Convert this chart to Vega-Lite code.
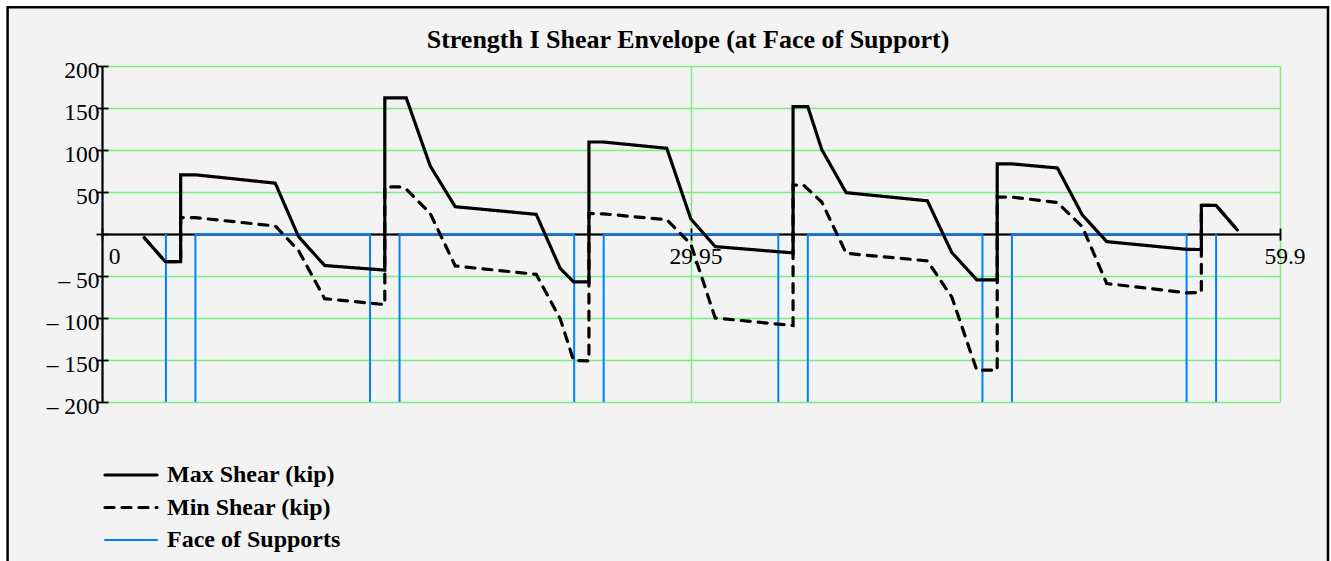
{
  "$schema": "https://vega.github.io/schema/vega-lite/v6.json",
  "width": 1178,
  "height": 336,
  "autosize": {"type": "none"},
  "padding": {"left": 102, "top": 66, "right": 51, "bottom": 159},
  "background": "#f3f3f3",
  "title": {
    "text": "Strength I Shear Envelope (at Face of Support)",
    "font": "Liberation Serif",
    "fontSize": 26,
    "fontWeight": "bold",
    "color": "black",
    "anchor": "middle",
    "frame": "group",
    "baseline": "alphabetic",
    "offset": -75,
    "dx": -3
  },
  "config": {"view": {"stroke": null}, "font": "Liberation Serif"},
  "datasets": {
    "shear": [
      {"i": 1, "x": 2.15, "v": -4.4, "series": "Max Shear (kip)"},
      {"i": 2, "x": 3.22, "v": -33, "series": "Max Shear (kip)"},
      {"i": 3, "x": 4.0, "v": -33, "series": "Max Shear (kip)"},
      {"i": 4, "x": 4.0, "v": 70.5, "series": "Max Shear (kip)"},
      {"i": 5, "x": 4.74, "v": 70.5, "series": "Max Shear (kip)"},
      {"i": 6, "x": 8.81, "v": 60.5, "series": "Max Shear (kip)"},
      {"i": 7, "x": 9.99, "v": -3, "series": "Max Shear (kip)"},
      {"i": 8, "x": 11.32, "v": -37.5, "series": "Max Shear (kip)"},
      {"i": 9, "x": 14.38, "v": -43, "series": "Max Shear (kip)"},
      {"i": 10, "x": 14.38, "v": 162, "series": "Max Shear (kip)"},
      {"i": 11, "x": 15.47, "v": 162, "series": "Max Shear (kip)"},
      {"i": 12, "x": 16.69, "v": 81, "series": "Max Shear (kip)"},
      {"i": 13, "x": 17.96, "v": 32.5, "series": "Max Shear (kip)"},
      {"i": 14, "x": 22.08, "v": 23.4, "series": "Max Shear (kip)"},
      {"i": 15, "x": 23.3, "v": -41, "series": "Max Shear (kip)"},
      {"i": 16, "x": 23.98, "v": -57, "series": "Max Shear (kip)"},
      {"i": 17, "x": 24.76, "v": -57, "series": "Max Shear (kip)"},
      {"i": 18, "x": 24.76, "v": 109.5, "series": "Max Shear (kip)"},
      {"i": 19, "x": 25.5, "v": 109.5, "series": "Max Shear (kip)"},
      {"i": 20, "x": 28.72, "v": 102, "series": "Max Shear (kip)"},
      {"i": 21, "x": 29.94, "v": 18, "series": "Max Shear (kip)"},
      {"i": 22, "x": 31.18, "v": -15, "series": "Max Shear (kip)"},
      {"i": 23, "x": 35.14, "v": -22.5, "series": "Max Shear (kip)"},
      {"i": 24, "x": 35.14, "v": 151.6, "series": "Max Shear (kip)"},
      {"i": 25, "x": 35.89, "v": 151.6, "series": "Max Shear (kip)"},
      {"i": 26, "x": 36.6, "v": 100.5, "series": "Max Shear (kip)"},
      {"i": 27, "x": 37.84, "v": 49.2, "series": "Max Shear (kip)"},
      {"i": 28, "x": 41.97, "v": 39.5, "series": "Max Shear (kip)"},
      {"i": 29, "x": 43.21, "v": -22, "series": "Max Shear (kip)"},
      {"i": 30, "x": 44.48, "v": -54.5, "series": "Max Shear (kip)"},
      {"i": 31, "x": 45.52, "v": -54.5, "series": "Max Shear (kip)"},
      {"i": 32, "x": 45.52, "v": 83.5, "series": "Max Shear (kip)"},
      {"i": 33, "x": 46.26, "v": 83.5, "series": "Max Shear (kip)"},
      {"i": 34, "x": 48.58, "v": 78.6, "series": "Max Shear (kip)"},
      {"i": 35, "x": 49.85, "v": 22.6, "series": "Max Shear (kip)"},
      {"i": 36, "x": 51.09, "v": -9.1, "series": "Max Shear (kip)"},
      {"i": 37, "x": 55.16, "v": -18.3, "series": "Max Shear (kip)"},
      {"i": 38, "x": 55.9, "v": -18.5, "series": "Max Shear (kip)"},
      {"i": 39, "x": 55.9, "v": 34, "series": "Max Shear (kip)"},
      {"i": 40, "x": 56.65, "v": 34, "series": "Max Shear (kip)"},
      {"i": 41, "x": 57.73, "v": 4.8, "series": "Max Shear (kip)"},

      {"i": 1, "x": 2.15, "v": -4.4, "series": "Min Shear (kip)"},
      {"i": 2, "x": 3.22, "v": -33, "series": "Min Shear (kip)"},
      {"i": 3, "x": 4.0, "v": -33, "series": "Min Shear (kip)"},
      {"i": 4, "x": 4.0, "v": 19.5, "series": "Min Shear (kip)"},
      {"i": 5, "x": 4.74, "v": 19.5, "series": "Min Shear (kip)"},
      {"i": 6, "x": 8.81, "v": 9.5, "series": "Min Shear (kip)"},
      {"i": 7, "x": 9.99, "v": -19.5, "series": "Min Shear (kip)"},
      {"i": 8, "x": 11.32, "v": -77, "series": "Min Shear (kip)"},
      {"i": 9, "x": 14.38, "v": -84, "series": "Min Shear (kip)"},
      {"i": 10, "x": 14.38, "v": 56, "series": "Min Shear (kip)"},
      {"i": 11, "x": 15.13, "v": 56, "series": "Min Shear (kip)"},
      {"i": 12, "x": 15.47, "v": 53.5, "series": "Min Shear (kip)"},
      {"i": 13, "x": 16.69, "v": 24.5, "series": "Min Shear (kip)"},
      {"i": 14, "x": 17.96, "v": -38, "series": "Min Shear (kip)"},
      {"i": 15, "x": 22.08, "v": -48, "series": "Min Shear (kip)"},
      {"i": 16, "x": 23.3, "v": -101, "series": "Min Shear (kip)"},
      {"i": 17, "x": 23.98, "v": -150.5, "series": "Min Shear (kip)"},
      {"i": 18, "x": 24.76, "v": -151, "series": "Min Shear (kip)"},
      {"i": 19, "x": 24.76, "v": 24.5, "series": "Min Shear (kip)"},
      {"i": 20, "x": 25.5, "v": 24, "series": "Min Shear (kip)"},
      {"i": 21, "x": 28.72, "v": 17, "series": "Min Shear (kip)"},
      {"i": 22, "x": 29.94, "v": -12, "series": "Min Shear (kip)"},
      {"i": 23, "x": 31.18, "v": -100, "series": "Min Shear (kip)"},
      {"i": 24, "x": 35.14, "v": -109, "series": "Min Shear (kip)"},
      {"i": 25, "x": 35.14, "v": 58.3, "series": "Min Shear (kip)"},
      {"i": 26, "x": 35.67, "v": 58.3, "series": "Min Shear (kip)"},
      {"i": 27, "x": 36.6, "v": 38, "series": "Min Shear (kip)"},
      {"i": 28, "x": 37.84, "v": -23, "series": "Min Shear (kip)"},
      {"i": 29, "x": 41.97, "v": -32, "series": "Min Shear (kip)"},
      {"i": 30, "x": 43.21, "v": -75, "series": "Min Shear (kip)"},
      {"i": 31, "x": 44.48, "v": -162, "series": "Min Shear (kip)"},
      {"i": 32, "x": 45.52, "v": -162, "series": "Min Shear (kip)"},
      {"i": 33, "x": 45.52, "v": 44, "series": "Min Shear (kip)"},
      {"i": 34, "x": 46.26, "v": 44, "series": "Min Shear (kip)"},
      {"i": 35, "x": 48.58, "v": 37.5, "series": "Min Shear (kip)"},
      {"i": 36, "x": 49.85, "v": 8.5, "series": "Min Shear (kip)"},
      {"i": 37, "x": 51.09, "v": -59, "series": "Min Shear (kip)"},
      {"i": 38, "x": 55.16, "v": -70, "series": "Min Shear (kip)"},
      {"i": 39, "x": 55.9, "v": -69.5, "series": "Min Shear (kip)"},
      {"i": 40, "x": 55.9, "v": 34, "series": "Min Shear (kip)"},
      {"i": 41, "x": 56.65, "v": 34, "series": "Min Shear (kip)"},
      {"i": 42, "x": 57.73, "v": 4.8, "series": "Min Shear (kip)"}
    ],
    "faces": [
      {"x": 3.25, "series": "Face of Supports"},
      {"x": 4.75, "series": "Face of Supports"},
      {"x": 13.63, "series": "Face of Supports"},
      {"x": 15.13, "series": "Face of Supports"},
      {"x": 24.01, "series": "Face of Supports"},
      {"x": 25.51, "series": "Face of Supports"},
      {"x": 34.39, "series": "Face of Supports"},
      {"x": 35.89, "series": "Face of Supports"},
      {"x": 44.77, "series": "Face of Supports"},
      {"x": 46.27, "series": "Face of Supports"},
      {"x": 55.15, "series": "Face of Supports"},
      {"x": 56.65, "series": "Face of Supports"}
    ],
    "spans": [
      {"from": 4.75, "to": 13.63, "series": "Face of Supports"},
      {"from": 15.13, "to": 24.01, "series": "Face of Supports"},
      {"from": 25.51, "to": 34.39, "series": "Face of Supports"},
      {"from": 35.89, "to": 44.77, "series": "Face of Supports"},
      {"from": 46.27, "to": 55.15, "series": "Face of Supports"}
    ]
  },
  "resolve": {"axis": {"x": "independent", "y": "independent"}},
  "layer": [
    {
      "data": {"values": [{}]},
      "mark": {"type": "rect", "filled": false, "stroke": "white", "strokeWidth": 7, "clip": false},
      "encoding": {
        "x": {"datum": -5.04, "type": "quantitative", "axis": null, "scale": {"domain": [0, 59.9], "nice": false, "zero": false}},
        "x2": {"datum": 62.57},
        "y": {"datum": 275.6, "type": "quantitative", "axis": null, "scale": {"domain": [-200, 200], "nice": false, "zero": false}},
        "y2": {"datum": -420}
      }
    },
    {
      "data": {"values": [{}]},
      "mark": {"type": "rect", "filled": false, "stroke": "black", "strokeWidth": 2.5, "clip": false},
      "encoding": {
        "x": {"datum": -4.8, "type": "quantitative", "axis": null, "scale": {"domain": [0, 59.9], "nice": false, "zero": false}},
        "x2": {"datum": 62.34},
        "y": {"datum": 270.0, "type": "quantitative", "axis": null, "scale": {"domain": [-200, 200], "nice": false, "zero": false}},
        "y2": {"datum": -420}
      }
    },
    {
      "data": {"name": "faces"},
      "mark": {"type": "rule", "strokeWidth": 2},
      "encoding": {
        "x": {
          "field": "x", "type": "quantitative",
          "scale": {"domain": [0, 59.9], "nice": false, "zero": false},
          "axis": {
            "orient": "bottom", "offset": 0, "values": [0, 29.95, 59.9],
            "grid": true,
            "gridColor": {"condition": {"test": "datum.value === 0", "value": "black"}, "value": "#78f078"},
            "gridWidth": 1.5,
            "domain": false, "ticks": false, "labels": false, "title": null
          }
        },
        "y": {"datum": 0, "type": "quantitative", "axis": null, "scale": {"domain": [-200, 200], "nice": false, "zero": false}},
        "y2": {"datum": -200},
        "color": {
          "field": "series", "type": "nominal",
          "scale": {"domain": ["Max Shear (kip)", "Min Shear (kip)", "Face of Supports"], "range": ["black", "black", "#0080ff"]},
          "legend": {
            "title": null, "orient": "none", "legendX": 17, "legendY": 397,
            "symbolType": "M-4,0H4", "symbolSize": 169, "symbolStrokeWidth": 3.2,
            "labelFont": "Liberation Serif", "labelFontSize": 24, "labelFontWeight": "bold",
            "labelColor": "black", "labelOffset": 24, "labelLimit": 400,
            "rowPadding": 8.5, "padding": 0,
            "encode": {"symbols": {"update": {
              "strokeWidth": {"signal": "datum.value === 'Face of Supports' ? 2 : 3.2"},
              "strokeCap": {"value": "round"}
            }}}
          }
        }
      }
    },
    {
      "data": {"name": "spans"},
      "mark": {"type": "rule", "strokeWidth": 2},
      "encoding": {
        "x": {
          "field": "from", "type": "quantitative",
          "scale": {"domain": [0, 59.9], "nice": false, "zero": false},
          "axis": {
            "orient": "bottom", "offset": -168, "values": [0, 29.95, 59.9],
            "grid": false,
            "domain": true, "domainColor": "black", "domainWidth": 1.8,
            "ticks": true, "tickColor": "black", "tickWidth": 1.8, "tickSize": 6,
            "labels": true, "format": ".2~f",
            "labelFont": "Liberation Serif", "labelFontSize": 23.5, "labelColor": "black",
            "labelBaseline": "alphabetic", "labelPadding": 23, "labelAlign": "center",
            "labelOffset": {"condition": {"test": "datum.value === 0", "value": 12}, "value": 4.5},
            "labelFlush": false, "labelOverlap": false, "title": null
          }
        },
        "x2": {"field": "to"},
        "y": {"datum": 0, "type": "quantitative", "axis": null, "scale": {"domain": [-200, 200], "nice": false, "zero": false}},
        "color": {"field": "series", "type": "nominal"}
      }
    },
    {
      "data": {"name": "shear"},
      "transform": [{"filter": "datum.series === 'Max Shear (kip)'"}],
      "mark": {"type": "line", "strokeWidth": 3.2, "strokeCap": "round", "strokeJoin": "miter"},
      "encoding": {
        "x": {
          "field": "x", "type": "quantitative",
          "scale": {"domain": [0, 59.9], "nice": false, "zero": false},
          "axis": {
            "orient": "top", "offset": -168, "values": [0, 29.95, 59.9],
            "grid": false, "domain": false,
            "ticks": true, "tickColor": "black", "tickWidth": 1.8, "tickSize": 6,
            "labels": false, "title": null
          }
        },
        "y": {
          "field": "v", "type": "quantitative",
          "scale": {"domain": [-200, 200], "nice": false, "zero": false},
          "axis": {
            "orient": "left", "offset": 0,
            "values": [-200, -150, -100, -50, 0, 50, 100, 150, 200],
            "grid": true,
            "gridColor": {"condition": {"test": "datum.value === 0", "value": "black"}, "value": "#78f078"},
            "gridWidth": 1.5,
            "domain": true, "domainColor": "black", "domainWidth": 2,
            "ticks": true, "tickColor": "black", "tickWidth": 1.8, "tickSize": 6,
            "labels": true,
            "labelExpr": "datum.value === 0 ? '' : (datum.value < 0 ? '\u2013 ' + (-datum.value) : '' + datum.value)",
            "labelFont": "Liberation Serif", "labelFontSize": 23.5, "labelColor": "black",
            "labelAlign": "right", "labelBaseline": "middle", "labelPadding": -3, "labelOffset": 4,
            "labelFlush": false, "labelOverlap": false, "title": null
          }
        },
        "order": {"field": "i", "type": "quantitative"},
        "color": {"field": "series", "type": "nominal"},
        "strokeDash": {
          "field": "series", "type": "nominal",
          "scale": {"domain": ["Max Shear (kip)", "Min Shear (kip)", "Face of Supports"], "range": [[1, 0], [9, 8], [1, 0]]}
        }
      }
    },
    {
      "data": {"name": "shear"},
      "transform": [{"filter": "datum.series === 'Min Shear (kip)'"}],
      "mark": {"type": "line", "strokeWidth": 3.2, "strokeCap": "round", "strokeJoin": "miter"},
      "encoding": {
        "x": {
          "field": "x", "type": "quantitative",
          "scale": {"domain": [0, 59.9], "nice": false, "zero": false},
          "axis": null
        },
        "y": {
          "field": "v", "type": "quantitative",
          "scale": {"domain": [-200, 200], "nice": false, "zero": false},
          "axis": {
            "orient": "right", "offset": -1178,
            "values": [-200, -150, -100, -50, 0, 50, 100, 150, 200],
            "grid": false, "domain": false,
            "ticks": true, "tickColor": "black", "tickWidth": 1.8, "tickSize": 6,
            "labels": false, "title": null
          }
        },
        "order": {"field": "i", "type": "quantitative"},
        "color": {"field": "series", "type": "nominal"},
        "strokeDash": {"field": "series", "type": "nominal"}
      }
    }
  ]
}
